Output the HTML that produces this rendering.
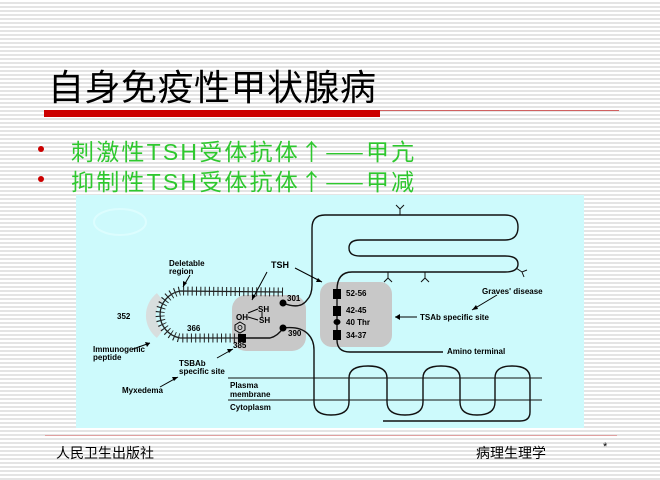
<!DOCTYPE html>
<html><head><meta charset="utf-8"><style>
html,body{margin:0;padding:0}
body{width:660px;height:480px;overflow:hidden;position:relative;background:repeating-linear-gradient(to bottom,#fff 0px,#fff 2px,#e4e4e4 2px,#e4e4e4 4px);font-family:"Liberation Sans","Noto Sans CJK SC",sans-serif}
.t{position:absolute;white-space:nowrap}
.d{font-family:"Noto Sans CJK SC",sans-serif}
</style></head><body>
<div class="t" style="left:48px;top:59px;font-size:36px;color:#000;letter-spacing:0.5px">自身免疫性甲状腺病</div>
<div style="position:absolute;left:44px;top:110px;width:336px;height:7px;background:#cc0000"></div>
<div style="position:absolute;left:380px;top:110px;width:239px;height:1px;background:#d06060"></div>
<div style="position:absolute;left:38px;top:146px;width:6px;height:6px;border-radius:50%;background:#cc0000"></div>
<div style="position:absolute;left:38px;top:176px;width:6px;height:6px;border-radius:50%;background:#cc0000"></div>
<div class="t" style="left:71px;top:133px;font-size:23px;color:#2ec82e;letter-spacing:2.2px">刺激性TSH受体抗体<span class="d">↑——</span>甲亢</div>
<div class="t" style="left:71px;top:163px;font-size:23px;color:#2ec82e;letter-spacing:2.2px">抑制性TSH受体抗体<span class="d">↑——</span>甲减</div>
<div style="position:absolute;left:76px;top:195px;width:508px;height:233px;background:#cdfafc"></div>
<div style="position:absolute;left:45px;top:435px;width:572px;height:1px;background:#e0a0a0"></div>
<div class="t" style="left:56px;top:443px;font-size:14px">人民卫生出版社</div>
<div class="t" style="left:476px;top:443px;font-size:14px">病理生理学</div>
<div class="t" style="left:603px;top:441px;font-size:11px">*</div>
<svg width="660" height="480" style="position:absolute;left:0;top:0" font-family="Liberation Sans, sans-serif" font-size="8" font-weight="bold">
<ellipse cx="120" cy="222" rx="26" ry="13" fill="none" stroke="#dcfdfe" stroke-width="2"/>
<rect x="232" y="295" width="74" height="56" rx="14" fill="#c8c8c8"/>
<rect x="320" y="282" width="72" height="65" rx="12" fill="#c8c8c8"/>
<path d="M160 297 A25 24 0 0 0 160 334" fill="none" stroke="#d8dede" stroke-width="10"/>
<path d="M283 292 L180 291 A25 24 0 0 0 180 338 L242 338" fill="none" stroke="#222" stroke-width="1.3"/>
<path d="M283 292 L180 291 A25 24 0 0 0 180 338 L242 338" fill="none" stroke="#222" stroke-width="9" stroke-dasharray="1 3.3"/>
<g fill="none" stroke="#111" stroke-width="1.4">
<path d="M283 303 Q300 310 307 300 Q312 295 312 285 L312 228 Q312 215 325 215 L505 215 Q518 215 518 227 Q518 240 505 240 L360 240 Q349 240 349 248 Q349 256 360 256 L505 256 Q518 256 518 264 Q518 272 505 272 L352 272 Q337 272 337 290 L337 340 Q337 352 350 352 L443 352"/>
<path d="M242 338 L270 338 Q278 336 283 328 Q300 326 308 334 Q314 340 314 350 L314 402 Q314 415 331 415 Q349 415 349 402 L349 378 Q349 366 368 366 Q387 366 387 378 L387 402 Q387 415 405 415 Q423 415 423 402 L423 378 Q423 366 441 366 Q460 366 460 378 L460 402 Q460 415 477 415 Q495 415 495 402 L495 378 Q495 366 512 366 Q530 366 530 378 L530 412 Q530 421 520 421 L383 421"/>
<path d="M228 378 L542 378 M228 400 L542 400" stroke-width="1"/>
<path d="M400 215 L400 209 M400 209 L396 205 M400 209 L404 205 M388 272 L388 278 L384 282 M388 278 L392 282 M425 272 L425 278 L421 282 M425 278 L429 282 M516 268 L522 272 L527 270 M522 272 L524 277" stroke-width="1"/>
</g>
<circle cx="283" cy="303" r="3.5" fill="#000"/>
<circle cx="283" cy="328" r="3.5" fill="#000"/>
<rect x="238" y="334" width="8" height="8" fill="#000"/>
<rect x="333" y="289" width="8" height="10" fill="#000"/>
<rect x="333" y="306" width="8" height="10" fill="#000"/>
<ellipse cx="337" cy="322" rx="3.5" ry="3" fill="#000"/>
<rect x="333" y="330" width="8" height="10" fill="#000"/>
<polygon points="240,322 245,325 245,330 240,333 235,330 235,325" fill="none" stroke="#000" stroke-width="1"/>
<circle cx="240" cy="327.5" r="2" fill="none" stroke="#000" stroke-width="0.8"/>
<g stroke="#000" stroke-width="1" fill="none">
<path d="M248 313 L258 309 M248 317 L258 320 M262 312 L262 318"/>
<path d="M190 275 L183 287 M267 272 L252 300 M295 268 L322 282 M133 349 L150 343 M217 358 L233 349 M160 387 L178 377 M497 295 L472 310 M417 317 L395 317"/>
</g>
<g fill="#000">
<polygon points="183,287 183,281 187,283"/><polygon points="252,300 252,294 256,296"/>
<polygon points="322,282 316,282 318,278"/><polygon points="150,343 145,342 147,347"/>
<polygon points="233,349 227,349 229,353"/><polygon points="178,377 172,377 174,381"/>
<polygon points="472,310 476,305 478,309"/><polygon points="395,317 400,314 400,320"/>
</g>
<text x="169" y="266">Deletable</text><text x="169" y="274">region</text>
<text x="271" y="268" font-size="9">TSH</text>
<text x="287" y="301">301</text>
<text x="117" y="319">352</text>
<text x="187" y="331">366</text>
<text x="258" y="312">SH</text><text x="236" y="320">OH</text><text x="259" y="323">SH</text>
<text x="288" y="336">390</text><text x="233" y="348">385</text>
<text x="93" y="352">Immunogenic</text><text x="93" y="360">peptide</text>
<text x="179" y="366">TSBAb</text><text x="179" y="374">specific site</text>
<text x="122" y="393">Myxedema</text>
<text x="230" y="388">Plasma</text><text x="230" y="397">membrane</text>
<text x="230" y="410">Cytoplasm</text>
<text x="346" y="296">52-56</text><text x="346" y="313">42-45</text>
<text x="346" y="325">40 Thr</text><text x="346" y="338">34-37</text>
<text x="482" y="294">Graves' disease</text>
<text x="420" y="320">TSAb specific site</text>
<text x="447" y="354">Amino terminal</text>
</svg>
</body></html>
